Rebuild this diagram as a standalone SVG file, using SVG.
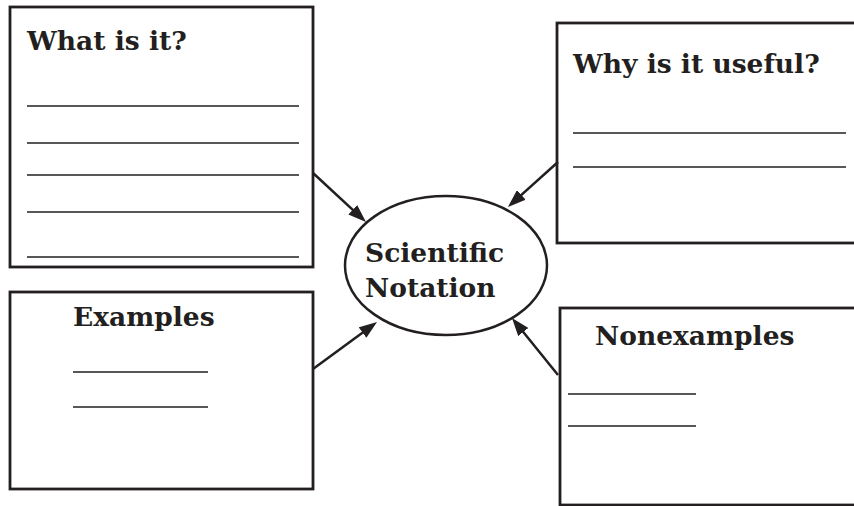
<svg xmlns="http://www.w3.org/2000/svg" width="854" height="506" viewBox="0 0 854 506">
  <style>
    .box { fill: #fff; stroke: #231f20; stroke-width: 2.8; }
    .rule { stroke: #231f20; stroke-width: 1.6; fill: none; }
    .title { font-family: "DejaVu Serif", "Liberation Serif", serif; font-weight: bold; font-size: 26.5px; fill: #231f20; }
    .hub { fill: #fff; stroke: #231f20; stroke-width: 2.5; }
    .arrow { stroke: #231f20; stroke-width: 2.5; fill: none; marker-end: url(#head); }
  </style>
  <defs>
    <marker id="head" viewBox="0 0 18 13" refX="10" refY="6.5" markerWidth="18" markerHeight="13" markerUnits="userSpaceOnUse" orient="auto">
      <path d="M0,0 L18,6.5 L0,13 z" fill="#231f20"/>
    </marker>
  </defs>
  <rect width="854" height="506" fill="#fff"/>

  <g id="what-is-it">
    <rect class="box" x="10" y="7" width="303" height="260"/>
    <text class="title" x="27" y="50">What is it?</text>
    <line class="rule" x1="27" y1="106" x2="299" y2="106"/>
    <line class="rule" x1="27" y1="143" x2="299" y2="143"/>
    <line class="rule" x1="27" y1="175" x2="299" y2="175"/>
    <line class="rule" x1="27" y1="212" x2="299" y2="212"/>
    <line class="rule" x1="27" y1="257" x2="299" y2="257"/>
  </g>

  <g id="why-useful">
    <rect class="box" x="557" y="23" width="310" height="220"/>
    <text class="title" x="573" y="73">Why is it useful?</text>
    <line class="rule" x1="573" y1="133" x2="846" y2="133"/>
    <line class="rule" x1="573" y1="167" x2="846" y2="167"/>
  </g>

  <g id="examples">
    <rect class="box" x="10" y="292" width="303" height="197"/>
    <text class="title" x="73" y="326">Examples</text>
    <line class="rule" x1="73" y1="372" x2="208" y2="372"/>
    <line class="rule" x1="73" y1="407" x2="208" y2="407"/>
  </g>

  <g id="nonexamples">
    <rect class="box" x="560" y="308" width="310" height="197"/>
    <text class="title" x="595" y="345">Nonexamples</text>
    <line class="rule" x1="568" y1="394" x2="696" y2="394"/>
    <line class="rule" x1="568" y1="426" x2="696" y2="426"/>
  </g>

  <g id="scientific-notation">
    <ellipse class="hub" cx="446" cy="265.5" rx="101" ry="69.5"/>
    <text class="title" x="365" y="262">Scientific</text>
    <text class="title" x="365" y="297">Notation</text>
  </g>

  <g id="connectors">
    <line class="arrow" x1="313" y1="173" x2="360.1" y2="216.6"/>
    <line class="arrow" x1="558" y1="162" x2="513.9" y2="201.6"/>
    <line class="arrow" x1="313" y1="369" x2="370.6" y2="326.7"/>
    <line class="arrow" x1="558" y1="375" x2="517.0" y2="324.2"/>
  </g>
</svg>
